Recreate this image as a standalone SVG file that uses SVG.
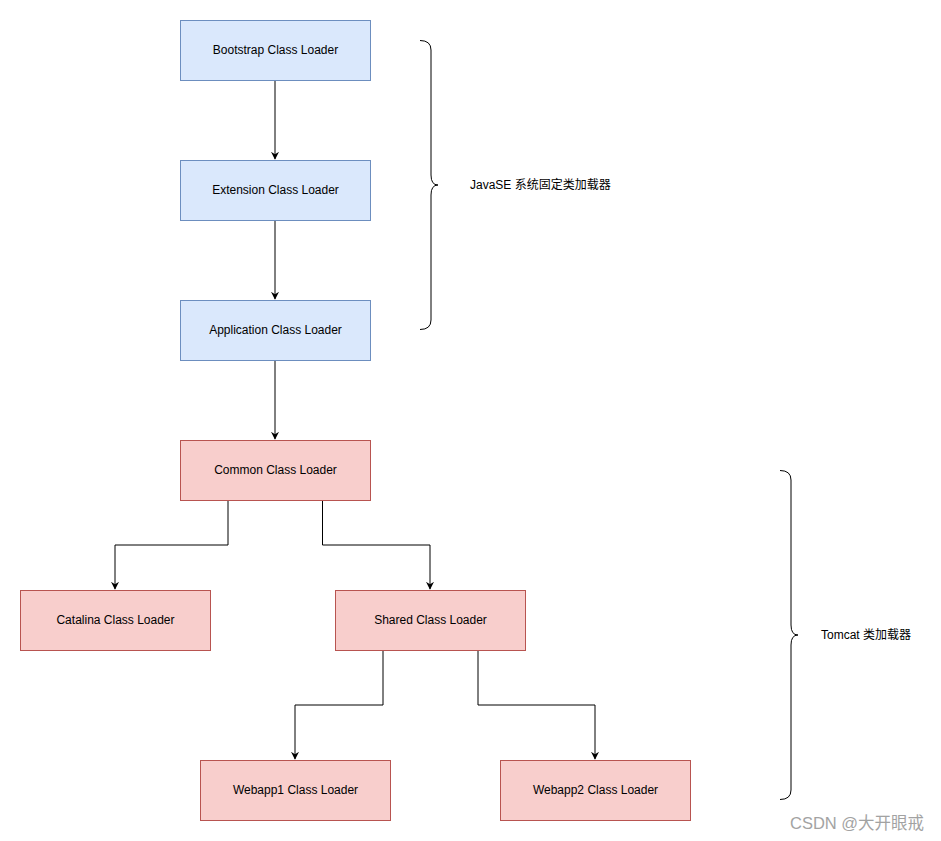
<svg xmlns="http://www.w3.org/2000/svg" width="941" height="841" viewBox="0 0 941 841">
<style>
.b{fill:#dae8fc;stroke:#6c8ebf;stroke-width:1}
.r{fill:#f8cecc;stroke:#b85450;stroke-width:1}
.t{font-family:"Liberation Sans","Noto Sans CJK SC",Arial,sans-serif;font-size:12px;fill:#000;text-anchor:middle;dominant-baseline:central}
.l{font-family:"Liberation Sans","Noto Sans CJK SC",Arial,sans-serif;font-size:12px;fill:#000;dominant-baseline:central}
.c{fill:none;stroke:#000;stroke-width:1}
.br{fill:none;stroke:#000;stroke-width:1}
</style>
<defs>
<marker id="a" viewBox="0 0 10 10" refX="9" refY="5" markerWidth="8" markerHeight="8" markerUnits="userSpaceOnUse" orient="auto">
<path d="M0,0 L10,5 L0,10 L3,5 Z" fill="#000"/>
</marker>
</defs>
<rect width="941" height="841" fill="#fff"/>
<g id="connectors">
<path class="c" d="M275,80 V159" marker-end="url(#a)"/>
<path class="c" d="M275,220 V299" marker-end="url(#a)"/>
<path class="c" d="M275,360 V439" marker-end="url(#a)"/>
<path class="c" d="M228,500 V545 H115 V589" marker-end="url(#a)"/>
<path class="c" d="M322.5,500 V545 H430 V589" marker-end="url(#a)"/>
<path class="c" d="M383,650 V705 H295 V759" marker-end="url(#a)"/>
<path class="c" d="M478,650 V705 H595 V759" marker-end="url(#a)"/>
</g>
<g id="bootstrap"><rect class="b" x="180.5" y="20.5" width="190" height="60"/><text class="t" x="275.5" y="49.5">Bootstrap Class Loader</text></g>
<g id="extension"><rect class="b" x="180.5" y="160.5" width="190" height="60"/><text class="t" x="275.5" y="189.5">Extension Class Loader</text></g>
<g id="application"><rect class="b" x="180.5" y="300.5" width="190" height="60"/><text class="t" x="275.5" y="329.5">Application Class Loader</text></g>
<g id="common"><rect class="r" x="180.5" y="440.5" width="190" height="60"/><text class="t" x="275.5" y="469.5">Common Class Loader</text></g>
<g id="catalina"><rect class="r" x="20.5" y="590.5" width="190" height="60"/><text class="t" x="115.5" y="619.5">Catalina Class Loader</text></g>
<g id="shared"><rect class="r" x="335.5" y="590.5" width="190" height="60"/><text class="t" x="430.5" y="619.5">Shared Class Loader</text></g>
<g id="webapp1"><rect class="r" x="200.5" y="760.5" width="190" height="60"/><text class="t" x="295.5" y="789.5">Webapp1 Class Loader</text></g>
<g id="webapp2"><rect class="r" x="500.5" y="760.5" width="190" height="60"/><text class="t" x="595.5" y="789.5">Webapp2 Class Loader</text></g>
<g id="javase-brace">
<path class="br" d="M420,40.5 Q431,40.5 431,50 V175 Q431,185 438,185 Q431,185 431,195 V320 Q431,329.5 420,329.5"/>
<text class="l" x="470" y="184.5">JavaSE 系统固定类加载器</text>
</g>
<g id="tomcat-brace">
<path class="br" d="M780,470.5 Q791,470.5 791,480 V625 Q791,635 798,635 Q791,635 791,645 V790 Q791,799.5 780,799.5"/>
<text class="l" x="821" y="634.5">Tomcat 类加载器</text>
</g>
<text x="790" y="829" font-family="Liberation Sans,'Noto Sans CJK SC',sans-serif" font-size="16.5" fill="#999" opacity="0.9">CSDN @大开眼戒</text>
</svg>
